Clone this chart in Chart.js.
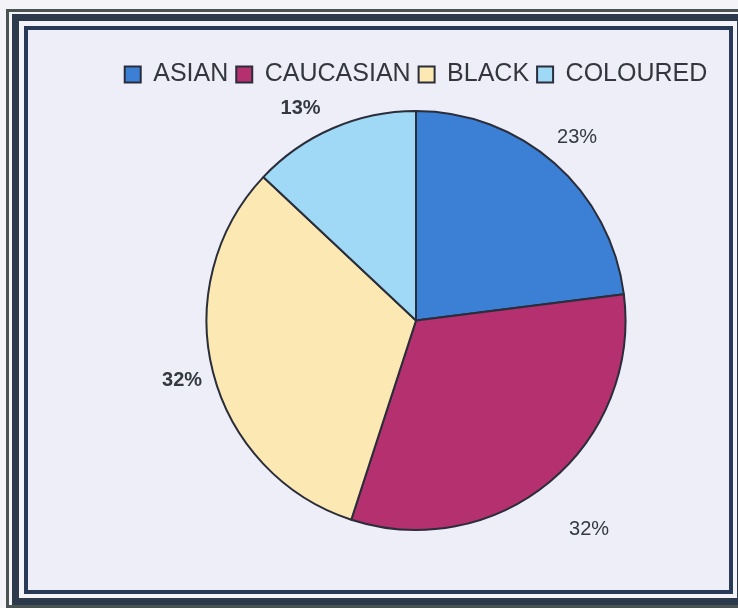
<!DOCTYPE html>
<html>
<head>
<meta charset="utf-8">
<script src="https://cdn.jsdelivr.net/npm/chart.js@4.4.1/dist/chart.umd.min.js"></script>
<style>
  html, body { margin: 0; padding: 0; background: #f4f4f8; }
  #wrap { width: 738px; height: 608px; }
</style>
</head>
<body>
<div id="wrap"><canvas id="pie" width="738" height="608"></canvas></div>
<script>
// data
const categories = ['ASIAN', 'CAUCASIAN', 'BLACK', 'COLOURED'];
const shares = [23, 32, 32, 13];
const sliceColors = ['#3c80d6', '#b5306e', '#fce8b2', '#9fd9f6'];

// frame + background
const framePlugin = {
    id: 'frame',
    beforeDraw(chart) {
        const c = chart.ctx;
        c.save();
        c.fillStyle = '#f4f4f8';
        c.fillRect(0, 0, 738, 608);
        // outer thin line
        c.strokeStyle = '#4b5352';
        c.lineWidth = 3;
        c.strokeRect(7.5, 10.5, 740, 596);
        // thick band
        c.strokeStyle = '#2c3a4c';
        c.lineWidth = 7;
        c.strokeRect(15.5, 17.5, 725, 584);
        // inner line
        c.strokeStyle = '#283a58';
        c.lineWidth = 4;
        c.fillStyle = '#eeeef9';
        c.fillRect(26, 28, 705, 564);
        c.strokeRect(26, 28, 705, 564);
        c.restore();
    }
};

// percentage labels outside the slices
const outsideLabels = {
    id: 'outsideLabels',
    afterDatasetsDraw(chart, args, opts) {
        const c = chart.ctx;
        const meta = chart.getDatasetMeta(0);
        c.save();
        c.textAlign = 'center';
        c.textBaseline = 'middle';
        c.fillStyle = '#33393f';
        meta.data.forEach((arc, i) => {
            const mid = (arc.startAngle + arc.endAngle) / 2 + opts.turn[i];
            const r = arc.outerRadius + opts.offsets[i];
            const x = arc.x + Math.cos(mid) * r;
            const y = arc.y + Math.sin(mid) * r;
            c.font = (opts.bold[i] ? 'bold ' : '') + '20px "Liberation Sans", Arial, sans-serif';
            c.fillText(shares[i] + '%', x, y);
        });
        c.restore();
    }
};

// push the pie down a little below the legend
const legendGap = {
    id: 'legendGap',
    beforeInit(chart) {
        const fit = chart.legend.fit;
        chart.legend.fit = function () {
            fit.bind(chart.legend)();
            this.height += 13;
        };
    }
};

new Chart(document.getElementById('pie'), {
    type: 'pie',
    data: {
        labels: categories,
        datasets: [{
            data: shares,
            backgroundColor: sliceColors,
            borderColor: '#2a2d3a',
            borderWidth: 2
        }]
    },
    options: {
        responsive: false,
        animation: false,
        layout: { padding: { top: 54, left: 94, right: 0, bottom: 77 } },
        plugins: {
            legend: {
                position: 'top',
                labels: {
                    boxWidth: 16,
                    boxHeight: 16,
                    padding: 8,
                    color: '#33363c',
                    font: { family: '"Liberation Sans", Arial, sans-serif', size: 25 }
                }
            },
            tooltip: { enabled: false },
            outsideLabels: {
                offsets: [34, 62, 32, 32],
                turn: [0, 0, 0, -0.09],
                bold: [false, false, true, true]
            }
        }
    },
    plugins: [framePlugin, outsideLabels, legendGap]
});
</script>
</body>
</html>
